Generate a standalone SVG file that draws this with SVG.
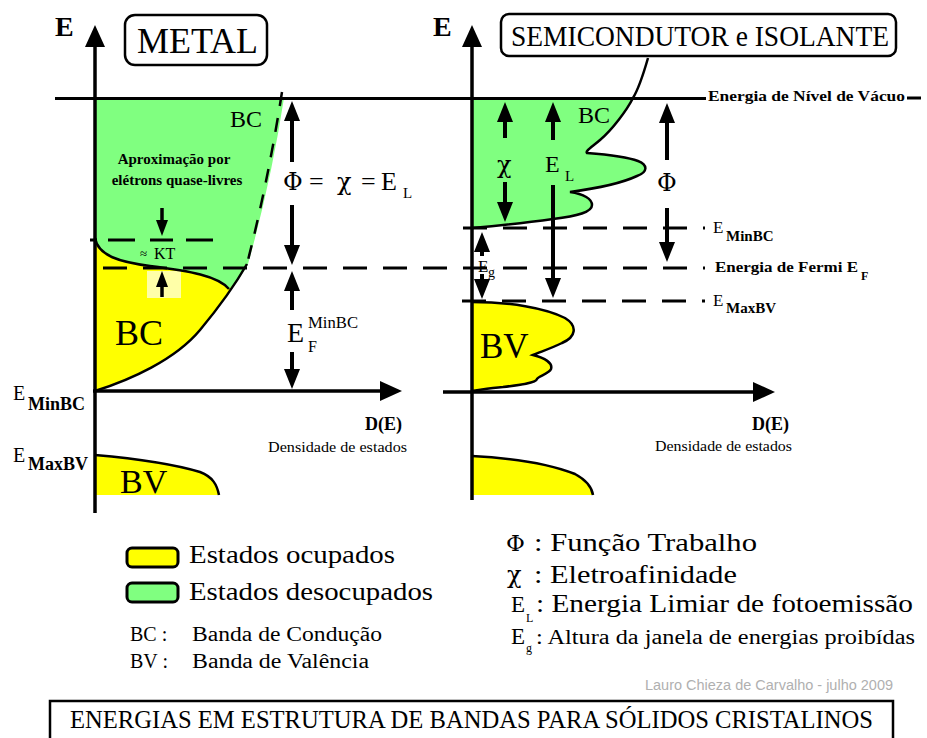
<svg xmlns="http://www.w3.org/2000/svg" width="927" height="738" viewBox="0 0 927 738">
<style>
text{font-family:"Liberation Serif","DejaVu Serif","Times New Roman",serif;fill:#000}
.b{font-weight:bold}
.ax{stroke:#000;stroke-width:3.5;fill:none;marker-end:url(#ha)}
.lv{stroke:#000;stroke-width:3;fill:none}
.dash{stroke:#000;stroke-width:3;fill:none;stroke-dasharray:24 16}
.seg{stroke:#000;stroke-width:3;fill:none}
.ol{stroke:#000;stroke-width:2.5;fill:none}
.dim{stroke:#000;stroke-width:4;fill:none;marker-end:url(#hd)}
.sm{stroke:#000;stroke-width:3.5;fill:none;marker-end:url(#hs)}
.g{fill:#80ff80}
.y{fill:#ffff00}
.box{fill:#fff;stroke:#000;stroke-width:2.5}
.lg{stroke:#000;stroke-width:3}
.gr{font-family:"DejaVu Serif","Liberation Serif",serif}
</style>
<defs>
<marker id="ha" markerUnits="userSpaceOnUse" markerWidth="22" markerHeight="20" refX="11" refY="10" orient="auto"><path d="M0,0L22,10L0,20Z" fill="#000"/></marker>
<marker id="hd" markerUnits="userSpaceOnUse" markerWidth="20" markerHeight="16" refX="10" refY="8" orient="auto"><path d="M0,0L20,8L0,16Z" fill="#000"/></marker>
<marker id="hs" markerUnits="userSpaceOnUse" markerWidth="16" markerHeight="12" refX="8" refY="6" orient="auto"><path d="M0,0L16,6L0,12Z" fill="#000"/></marker>
</defs>
<rect width="927" height="738" fill="#fff"/>

<g id="metal">
<path class="y" d="M95,391 C130,380 175,360 200,330 C215,312 235,285 247,264 L250,232 L95,232 Z"/>
<path class="g" d="M95,98 L284,98 Q271,182 248,264 C241,277 236,283 229,289 C218,276 190,271 150,266 C120,262 98,256 95,238 Z"/>
<rect x="147" y="271" width="34" height="27" fill="#ffffa8"/>
<path class="ol" d="M95,238 C98,256 120,262 150,266 C190,271 218,276 229,289"/>
<path class="ol" d="M95,391 C130,380 175,360 200,330 C215,312 235,285 247,264"/>
<path class="ol" d="M282,92 Q268,182 247,264" stroke-dasharray="14 12"/>
<path class="y" d="M95,455 C140,459 180,466 200,472 C213,477 217,485 219,495 L95,495 Z"/>
<path class="ol" stroke-width="3" d="M95,455 C140,459 180,466 200,472 C213,477 217,485 219,495"/>
<rect class="box" x="125" y="15" width="142" height="50" rx="10"/>
<text x="137" y="53" font-size="36" textLength="121" lengthAdjust="spacingAndGlyphs">METAL</text>
<text class="b" x="55" y="36" font-size="28">E</text>
<text x="230" y="127" font-size="24">BC</text>
<text class="b" x="174" y="164" font-size="15" text-anchor="middle">Aproximação por</text>
<text class="b" x="177" y="185" font-size="15" text-anchor="middle">elétrons quase-livres</text>
<text x="140" y="258" font-size="13">≈</text>
<text x="154" y="259" font-size="16">KT</text>
<text x="115" y="345" font-size="36">BC</text>
<text x="120" y="493" font-size="34">BV</text>
<text y="190" font-size="26"><tspan class="gr" x="283" font-size="24">Φ</tspan><tspan x="309">=</tspan><tspan class="gr" x="337" font-size="24">χ</tspan><tspan x="361">=</tspan><tspan x="381">E</tspan><tspan x="403" y="198" font-size="15">L</tspan></text>
<text x="287" y="342" font-size="28">E</text>
<text x="308" y="328" font-size="17" textLength="50" lengthAdjust="spacingAndGlyphs">MinBC</text>
<text x="308" y="352" font-size="16">F</text>
<text x="13" y="400" font-size="20">E</text>
<text class="b" x="28" y="410" font-size="18">MinBC</text>
<text x="13" y="462" font-size="20">E</text>
<text class="b" x="28" y="470" font-size="18">MaxBV</text>
<text class="b" x="365" y="430" font-size="18">D(E)</text>
<text x="268" y="452" font-size="15" textLength="139" lengthAdjust="spacingAndGlyphs">Densidade de estados</text>
</g>

<g id="semicondutor">
<path class="g" d="M472,98 L633,98 C627,110 612,130 600,140 C592,147 585,151 587,153 C600,154 625,156 638,161 C648,165 648,172 637,176 C622,183 600,188 570,192 C584,194 592,199 592,205 C592,212 578,216 553,219 C525,223 495,226 472,228 Z"/>
<path class="ol" stroke-width="3" d="M648,58 C644,72 639,88 633,98 C627,110 612,130 600,140 C592,147 585,151 587,153 C600,154 625,156 638,161 C648,165 648,172 637,176 C622,183 600,188 570,192 C584,194 592,199 592,205 C592,212 578,216 553,219 C525,223 495,226 472,228"/>
<path class="y" d="M472,302 C510,302 545,308 565,318 C578,326 576,337 562,343 C552,348 540,352 533,355 C545,358 553,363 551,369 C549,374 538,376 537,379 C536,383 520,385 503,387 C490,388 480,390 472,391 Z"/>
<path class="ol" stroke-width="3" d="M472,302 C510,302 545,308 565,318 C578,326 576,337 562,343 C552,348 540,352 533,355 C545,358 553,363 551,369 C549,374 538,376 537,379 C536,383 520,385 503,387 C490,388 480,390 472,391"/>
<path class="y" d="M472,456 C510,458 550,464 575,474 C588,481 592,488 593,495 L472,495 Z"/>
<path class="ol" stroke-width="3" d="M472,456 C510,458 550,464 575,474 C588,481 592,488 593,495"/>
<rect class="box" x="501" y="14" width="395" height="42" rx="8"/>
<text x="511" y="46" font-size="30" textLength="378" lengthAdjust="spacingAndGlyphs">SEMICONDUTOR e ISOLANTE</text>
<text class="b" x="433" y="36" font-size="28">E</text>
<text x="578" y="123" font-size="24">BC</text>
<text class="gr" x="497" y="173" font-size="24">χ</text>
<text x="545" y="172" font-size="24">E</text>
<text x="565" y="181" font-size="15">L</text>
<text class="gr" x="657" y="191" font-size="24">Φ</text>
<text x="478" y="272" font-size="17">E</text>
<text x="488" y="277" font-size="14">g</text>
<text x="480" y="358" font-size="35">BV</text>
<text class="b" x="708" y="101" font-size="15" textLength="197" lengthAdjust="spacingAndGlyphs">Energia de Nível de Vácuo</text>
<text x="713" y="233" font-size="17">E</text>
<text class="b" x="726" y="241" font-size="15">MinBC</text>
<text class="b" x="715" y="272" font-size="15" textLength="143" lengthAdjust="spacingAndGlyphs">Energia de Fermi E</text>
<text class="b" x="861" y="280" font-size="12">F</text>
<text x="713" y="306" font-size="17">E</text>
<text class="b" x="726" y="313" font-size="15">MaxBV</text>
<text class="b" x="752" y="430" font-size="18">D(E)</text>
<text x="655" y="451" font-size="15" textLength="137" lengthAdjust="spacingAndGlyphs">Densidade de estados</text>
</g>

<g id="connectors">
<line class="ax" x1="95" y1="513" x2="95" y2="36"/>
<line class="ax" x1="93" y1="391" x2="391" y2="391"/>
<line class="ax" x1="472" y1="500" x2="472" y2="36"/>
<line class="ax" x1="443" y1="392" x2="764" y2="392"/>
<line class="lv" x1="55" y1="98.5" x2="706" y2="98.5"/>
<line class="lv" x1="907" y1="98" x2="921" y2="98"/>
<line class="dash" x1="88" y1="268" x2="705" y2="268" stroke-dashoffset="25"/>
<line class="dash" x1="463" y1="228" x2="705" y2="228"/>
<line class="dash" x1="462" y1="301" x2="705" y2="301"/>
<path class="seg" d="M90,240H97M108,240H135M150,240H173M186,240H213"/>
<line class="dim" x1="292" y1="162" x2="292" y2="111"/>
<line class="dim" x1="292" y1="205" x2="292" y2="255"/>
<line class="dim" x1="292" y1="310" x2="292" y2="281"/>
<line class="dim" x1="292" y1="352" x2="292" y2="379"/>
<line class="sm" x1="162" y1="208" x2="162" y2="228"/>
<line class="sm" x1="162" y1="297" x2="162" y2="279"/>
<line class="dim" x1="505" y1="138" x2="505" y2="112"/>
<line class="dim" x1="505" y1="182" x2="505" y2="212"/>
<line class="dim" x1="553" y1="140" x2="553" y2="112"/>
<line class="dim" x1="553" y1="185" x2="553" y2="288"/>
<line class="dim" x1="667" y1="160" x2="667" y2="113"/>
<line class="dim" x1="667" y1="208" x2="667" y2="252"/>
<line class="dim" x1="482" y1="256" x2="482" y2="242"/>
<line class="dim" x1="482" y1="274" x2="482" y2="289"/>
</g>

<g id="legend">
<rect class="lg y" x="127" y="548" width="51" height="19" rx="5"/>
<rect class="lg g" x="127" y="583" width="51" height="19" rx="5"/>
<text x="189" y="563" font-size="26" font-family="Liberation Serif" textLength="206" lengthAdjust="spacingAndGlyphs">Estados ocupados</text>
<text x="189" y="600" font-size="26" font-family="Liberation Serif" textLength="244" lengthAdjust="spacingAndGlyphs">Estados desocupados</text>
<text x="130" y="641" font-size="20">BC :</text>
<text x="192" y="641" font-size="20" font-family="Liberation Serif" textLength="190" lengthAdjust="spacingAndGlyphs">Banda de Condução</text>
<text x="130" y="668" font-size="20">BV :</text>
<text x="192" y="668" font-size="20" font-family="Liberation Serif" textLength="177" lengthAdjust="spacingAndGlyphs">Banda de Valência</text>
<text class="gr" x="506" y="551" font-size="23">Φ</text>
<text x="534" y="551" font-size="26" font-family="Liberation Serif" textLength="223" lengthAdjust="spacingAndGlyphs">: Função Trabalho</text>
<text class="gr" x="507" y="583" font-size="24">χ</text>
<text x="534" y="583" font-size="26" font-family="Liberation Serif" textLength="203" lengthAdjust="spacingAndGlyphs">: Eletroafinidade</text>
<text x="511" y="612" font-size="23">E</text>
<text x="526" y="622" font-size="12">L</text>
<text x="536" y="612" font-size="26" font-family="Liberation Serif" textLength="377" lengthAdjust="spacingAndGlyphs">: Energia Limiar de fotoemissão</text>
<text x="511" y="644" font-size="23">E</text>
<text x="526" y="652" font-size="12">g</text>
<text x="536" y="644" font-size="20" font-family="Liberation Serif" textLength="379" lengthAdjust="spacingAndGlyphs">: Altura da janela de energias proibídas</text>
</g>

<g id="footer">
<text x="645" y="690" font-size="14" style="font-family:'Liberation Sans',Arial,sans-serif;fill:#b0b0b0" textLength="248" lengthAdjust="spacingAndGlyphs">Lauro Chieza de Carvalho - julho 2009</text>
<rect x="50" y="701" width="843" height="50" fill="#fff" stroke="#000" stroke-width="2.5"/>
<text x="70" y="728" font-size="25" textLength="803" lengthAdjust="spacingAndGlyphs">ENERGIAS EM ESTRUTURA DE BANDAS PARA SÓLIDOS CRISTALINOS</text>
</g>
</svg>
